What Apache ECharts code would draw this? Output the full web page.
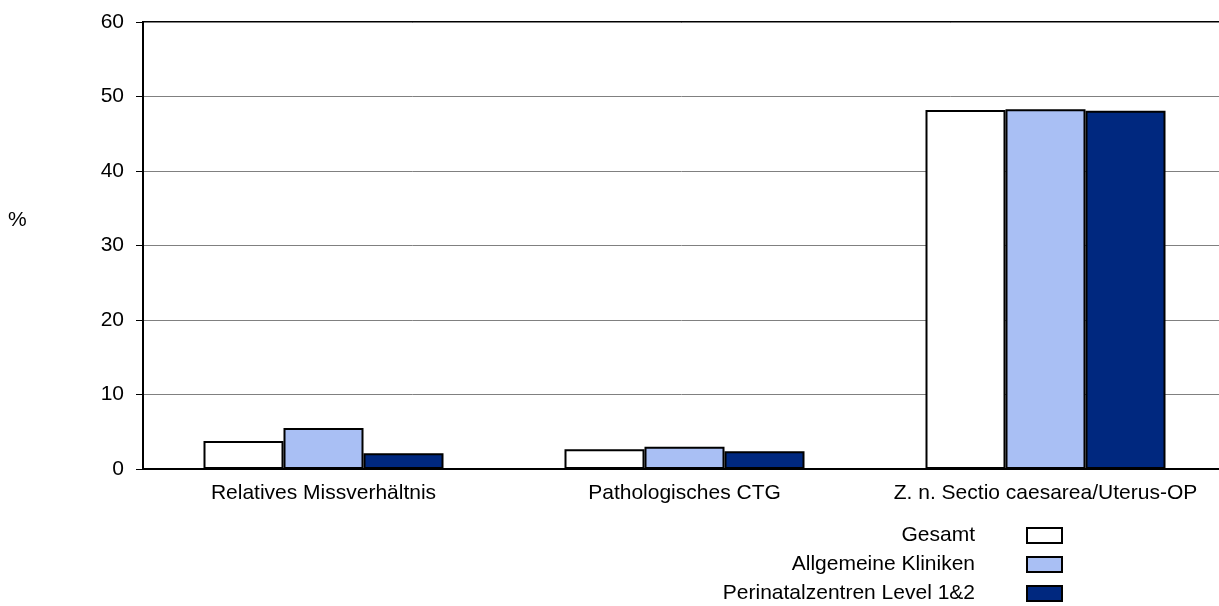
<!DOCTYPE html>
<html>
<head>
<meta charset="utf-8">
<script src="https://cdn.jsdelivr.net/npm/echarts@6/dist/echarts.min.js"></script>
<style>html,body{margin:0;padding:0;background:#fff}#c{width:1219px;height:606px}</style>
</head>
<body>
<div id="c"></div>
<script>
const categories = ['Relatives Missverhältnis', 'Pathologisches CTG', 'Z. n. Sectio caesarea/Uterus-OP'];
const seriesNames = ['Gesamt', 'Allgemeine Kliniken', 'Perinatalzentren Level 1&2'];
const gesamt = [3.76, 2.65, 48.2];
const allgemeine = [5.52, 3.0, 48.3];
const perinatal = [2.12, 2.39, 48.1];
const yMin = 0, yMax = 60, yStep = 10;
const unitLabel = '%';

const FONT = "'Liberation Sans', Arial, sans-serif";
const colors = ['#FFFFFF', '#A9BFF4', '#00287F'];
const values = [gesamt, allgemeine, perinatal];

const chart = echarts.init(document.getElementById('c'), null, {renderer: 'canvas'});
chart.setOption({
  animation: false,
  backgroundColor: '#fff',
  title: {
    text: unitLabel, left: 8, top: 210, padding: 0,
    textStyle: {fontFamily: FONT, fontSize: 21, fontWeight: 'normal', color: '#000'}
  },
  grid: {
    left: 143, width: 1083, top: 22, height: 447,
    outerBoundsMode: 'none', containLabel: false,
    show: true, borderColor: '#000', borderWidth: 2, backgroundColor: 'transparent'
  },
  legend: {
    orient: 'vertical', align: 'right', right: 156, top: 525, height: 100, padding: 0,
    itemWidth: 35, itemHeight: 15, itemGap: 8,
    icon: 'rect',
    data: seriesNames,
    itemStyle: {borderColor: '#000', borderWidth: 2},
    textStyle: {fontFamily: FONT, fontSize: 21, color: '#000', lineHeight: 15, padding: [2, 47, 0, 0]}
  },
  xAxis: {
    type: 'category', data: categories,
    axisLine: {lineStyle: {color: '#000', width: 2}},
    axisTick: {show: false},
    axisLabel: {fontFamily: FONT, fontSize: 21, color: '#000', margin: 14, interval: 0},
    splitLine: {show: false}
  },
  yAxis: {
    type: 'value', min: yMin, max: yMax, interval: yStep,
    axisLine: {show: true, lineStyle: {color: '#000', width: 2}},
    axisTick: {show: true, length: 7, lineStyle: {color: '#000', width: 1}},
    axisLabel: {fontFamily: FONT, fontSize: 21, color: '#000', margin: 19},
    splitLine: {lineStyle: {color: '#808080', width: 1}}
  },
  series: seriesNames.map((n, i) => ({
    name: n, type: 'bar', data: values[i],
    barWidth: 80, barGap: '0%',
    itemStyle: {color: colors[i], borderColor: '#000', borderWidth: 2}
  }))
});
</script>
</body>
</html>
